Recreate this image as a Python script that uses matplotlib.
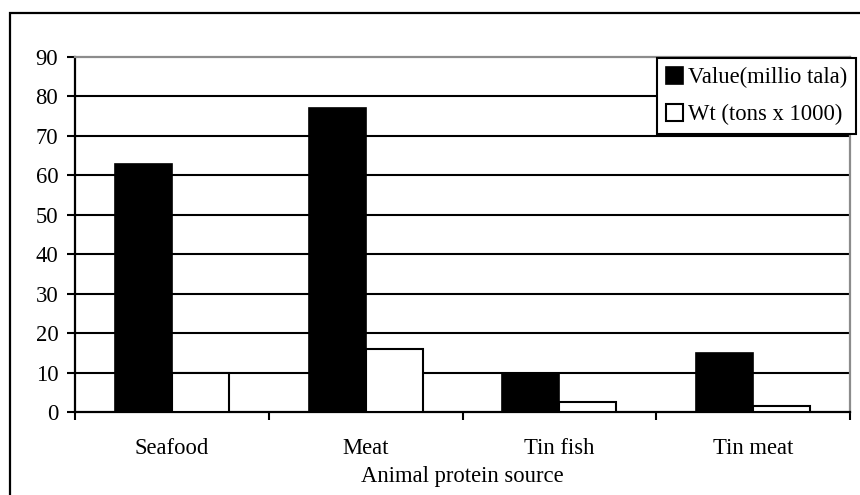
import matplotlib.pyplot as plt
from matplotlib.patches import Rectangle
import numpy as np

plt.rcParams['font.family'] = ['Liberation Serif', 'DejaVu Serif']

sources = ['Seafood', 'Meat', 'Tin fish', 'Tin meat']
value_tala = [63, 77, 10, 15]
weight_tons = [10, 16, 2.5, 1.5]
y_ticks = list(range(0, 100, 10))

fs = 16.3
fig = plt.figure(figsize=(8.6, 4.95), dpi=100)
ax = fig.add_axes([75/860, 1 - 412/495, 775/860, 355/495])

x = np.arange(len(sources))
w = 0.294
ax.bar(x - w/2, value_tala, w, color='black', edgecolor='black', linewidth=1.2,
       label='Value(millio tala)', zorder=3)
ax.bar(x + w/2, weight_tons, w, color='white', edgecolor='black', linewidth=1.5,
       label='Wt (tons x 1000)', zorder=3)

ax.set_xlim(-0.5, len(sources) - 0.5)
ax.set_ylim(0, 90)
ax.set_yticks(y_ticks)
ax.set_yticklabels([str(v) for v in y_ticks], fontsize=fs)
for v in y_ticks[1:-1]:
    ax.axhline(v, color='black', linewidth=1.5, zorder=1)

# category boundaries carry the ticks, names sit between them
ax.set_xticks(np.arange(-0.5, len(sources), 1.0))
ax.set_xticklabels([])
ax.set_xticks(x, minor=True)
ax.set_xticklabels(sources, minor=True, fontsize=fs)
ax.tick_params(axis='x', which='minor', length=0, pad=19)
ax.tick_params(axis='x', which='major', length=6, width=1.5, direction='out')
ax.tick_params(axis='y', length=6, width=1.5, direction='out', pad=6)
ax.set_xlabel('Animal protein source', fontsize=fs, labelpad=5)

for side in ['left', 'bottom']:
    ax.spines[side].set_color('black')
    ax.spines[side].set_linewidth(1.6)
for side in ['top', 'right']:
    ax.spines[side].set_color('#8c8c8c')
    ax.spines[side].set_linewidth(1.6)

leg = fig.legend(loc='upper left', bbox_to_anchor=(657/860, 1 - 58/495),
                 fontsize=fs, frameon=True, fancybox=False, borderpad=0.4,
                 handlelength=0.75, handleheight=0.75, handletextpad=0.2,
                 labelspacing=0.7, borderaxespad=0)
leg.get_frame().set_edgecolor('black')
leg.get_frame().set_linewidth(1.5)
leg.get_frame().set_alpha(1)

# outer chart border
fig.patches.append(Rectangle((10/860, -0.1), 1.2, 1 - 13/495 + 0.1,
                             transform=fig.transFigure, fill=False,
                             edgecolor='black', linewidth=1.6))

fig.savefig('out.png', dpi=100)
